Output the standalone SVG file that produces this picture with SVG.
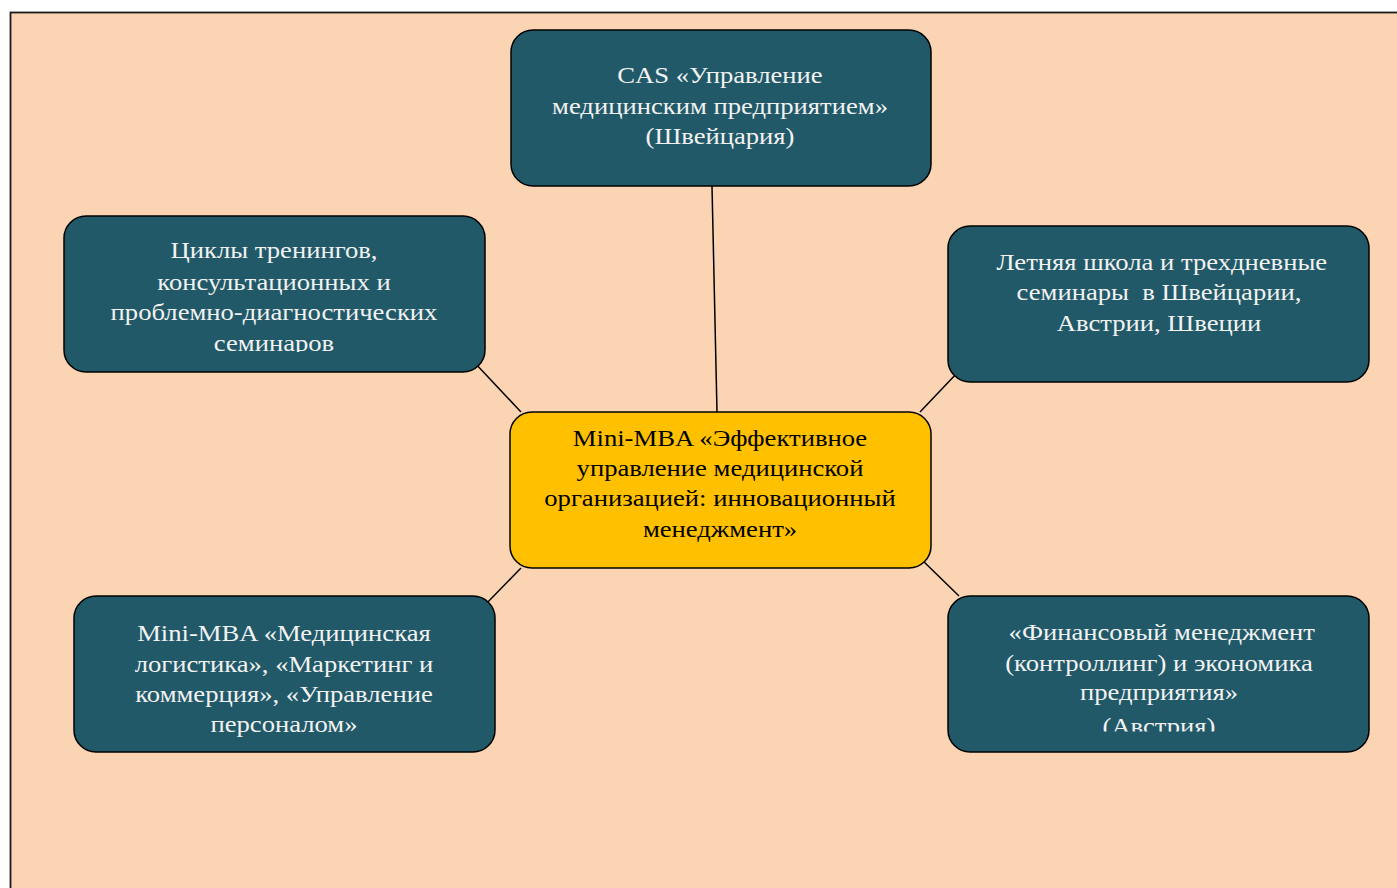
<svg xmlns="http://www.w3.org/2000/svg" width="1397" height="888" viewBox="0 0 1397 888">
<style>
.bg{fill:#FBD4B4;stroke:#1a1a1a;stroke-width:1.8}
.box{fill:#215968;stroke:#000;stroke-width:1.5}
.ctr{fill:#FFC000;stroke:#000;stroke-width:1.5}
.t{font-family:"Liberation Serif","Times New Roman",serif;font-size:24px;text-anchor:middle;fill:#F2F2F2}
.tc{font-family:"Liberation Serif","Times New Roman",serif;font-size:24px;text-anchor:middle;fill:#000}
.conn line{stroke:#000;stroke-width:1.5}
</style>
<defs>
<clipPath id="clipLT"><rect x="60" y="210" width="430" height="142"/></clipPath>
<clipPath id="clipRB"><rect x="944" y="590" width="430" height="141.5"/></clipPath>
</defs>
<rect class="bg" x="10.5" y="12.5" width="1420" height="900"/>
<g id="connectors" class="conn">
<line x1="712" y1="186" x2="717" y2="412"/>
<line x1="474" y1="362" x2="521" y2="412"/>
<line x1="958" y1="372" x2="920" y2="412"/>
<line x1="521" y1="568" x2="484" y2="606"/>
<line x1="920" y1="558" x2="959" y2="596"/>
</g>
<g id="node-top">
<rect class="box" x="511" y="30" width="420" height="156" rx="22"/>
<text class="t" transform="translate(720 0) scale(1.11 1)"><tspan x="0" y="83">CAS «Управление</tspan><tspan x="0" y="114">медицинским предприятием»</tspan><tspan x="0" y="144">(Швейцария)</tspan></text>
</g>
<g id="node-left-top">
<rect class="box" x="64" y="216" width="421" height="156" rx="22"/>
<g clip-path="url(#clipLT)">
<text class="t" transform="translate(274 0) scale(1.11 1)"><tspan x="0" y="258">Циклы тренингов,</tspan><tspan x="0" y="290">консультационных и</tspan><tspan x="0" y="320">проблемно-диагностических</tspan><tspan x="0" y="351">семинаров</tspan></text>
</g>
</g>
<g id="node-right-top">
<rect class="box" x="948" y="226" width="421" height="156" rx="22"/>
<text class="t" transform="translate(1159 0) scale(1.11 1)"><tspan x="2.5" y="270">Летняя школа и трехдневные</tspan><tspan x="0" y="300">семинары&#160; в Швейцарии,</tspan><tspan x="0" y="331">Австрии, Швеции</tspan></text>
</g>
<g id="node-center">
<rect class="ctr" x="510" y="412" width="421" height="156" rx="22"/>
<text class="tc" transform="translate(720 0) scale(1.11 1)"><tspan x="0" y="446">Mini-MBA «Эффективное</tspan><tspan x="0" y="476">управление медицинской</tspan><tspan x="0" y="506">организацией: инновационный</tspan><tspan x="0" y="537">менеджмент»</tspan></text>
</g>
<g id="node-left-bottom">
<rect class="box" x="74" y="596" width="421" height="156" rx="22"/>
<text class="t" transform="translate(284 0) scale(1.11 1)"><tspan x="0" y="641">Mini-MBA «Медицинская</tspan><tspan x="0" y="672">логистика», «Маркетинг и</tspan><tspan x="0" y="702">коммерция», «Управление</tspan><tspan x="0" y="732">персоналом»</tspan></text>
</g>
<g id="node-right-bottom">
<rect class="box" x="948" y="596" width="421" height="156" rx="22"/>
<g clip-path="url(#clipRB)">
<text class="t" transform="translate(1159 0) scale(1.11 1)"><tspan x="2.5" y="640">«Финансовый менеджмент</tspan><tspan x="0" y="671">(контроллинг) и экономика</tspan><tspan x="0" y="700">предприятия»</tspan><tspan x="0" y="734">(Австрия)</tspan></text>
</g>
</g>
</svg>
